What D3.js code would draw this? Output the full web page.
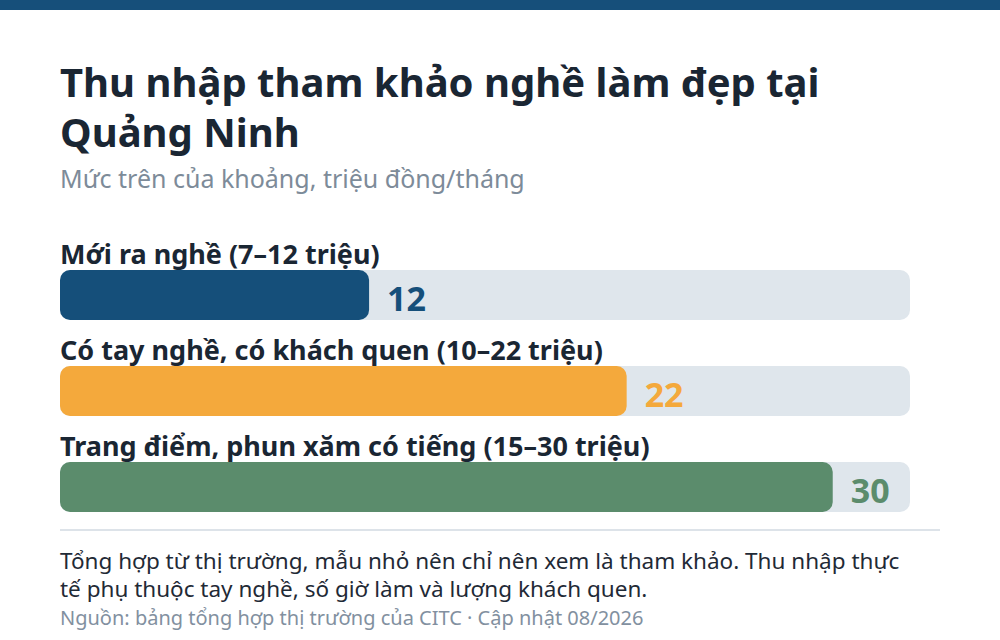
<!DOCTYPE html>
<html>
<head>
<meta charset="utf-8">
<script src="https://cdn.jsdelivr.net/npm/d3@7"></script>
<style>
  body { margin: 0; background: #fff; }
  svg { display: block; font-family: "Noto Sans", "Open Sans", sans-serif; }
</style>
</head>
<body>
<div id="chart"></div>
<script>
// data
const categories = ["Mới ra nghề (7–12 triệu)", "Có tay nghề, có khách quen (10–22 triệu)", "Trang điểm, phun xăm có tiếng (15–30 triệu)"];
const values = [12, 22, 30];
const barColors = ["#154f7a", "#f4a93c", "#5b8c6c"];
const titleLines = ["Thu nhập tham khảo nghề làm đẹp tại", "Quảng Ninh"];
const subtitle = "Mức trên của khoảng, triệu đồng/tháng";
const noteLines = ["Tổng hợp từ thị trường, mẫu nhỏ nên chỉ nên xem là tham khảo. Thu nhập thực", "tế phụ thuộc tay nghề, số giờ làm và lượng khách quen."];
const source = "Nguồn: bảng tổng hợp thị trường của CITC · Cập nhật 08/2026";

const width = 1000;
const height = 640;
const left = 60;
const trackW = 850;

const svg = d3.select("#chart")
  .append("svg")
  .attr("width", width)
  .attr("height", height);

// top band
svg.append("rect")
  .attr("x", 0).attr("y", 0)
  .attr("width", width).attr("height", 10)
  .attr("fill", "#164f7a");

// title + subtitle
svg.selectAll(".title")
  .data(titleLines)
  .enter()
  .append("text")
  .attr("class", "title")
  .attr("x", left)
  .attr("y", (d, i) => 97 + i * 50)
  .attr("font-size", "40px")
  .attr("font-weight", "bold")
  .attr("fill", "#1a2633")
  .text(d => d);

svg.append("text")
  .attr("x", left)
  .attr("y", 188)
  .attr("font-size", "25px")
  .attr("fill", "#7d8b99")
  .text(subtitle);

// scales
const x = d3.scaleLinear()
  .domain([0, d3.max(values) * 1.1])
  .range([0, trackW]);

const y = d3.scaleBand()
  .domain(categories)
  .range([270, 270 + 96 * categories.length])
  .paddingInner(0);

const rows = svg.selectAll(".row")
  .data(categories)
  .enter()
  .append("g")
  .attr("class", "row")
  .attr("transform", d => `translate(${left},${y(d)})`);

// category label above each track
rows.append("text")
  .attr("x", 0)
  .attr("y", -6)
  .attr("font-size", "27px")
  .attr("font-weight", "bold")
  .attr("fill", "#1a2633")
  .text(d => d);

// background track
rows.append("rect")
  .attr("width", x.range()[1])
  .attr("height", 50)
  .attr("rx", 10)
  .attr("fill", "#dfe6ec");

// value bar
rows.append("rect")
  .attr("width", (d, i) => x(values[i]))
  .attr("height", 50)
  .attr("rx", 10)
  .attr("fill", (d, i) => barColors[i]);

// value label
rows.append("text")
  .attr("x", (d, i) => x(values[i]) + 18)
  .attr("y", 41)
  .attr("font-size", "34px")
  .attr("font-weight", "bold")
  .attr("fill", (d, i) => barColors[i])
  .text((d, i) => values[i]);

// divider
svg.append("line")
  .attr("x1", left).attr("x2", 940)
  .attr("y1", 530).attr("y2", 530)
  .attr("stroke", "#dde3e9")
  .attr("stroke-width", 2);

// note
svg.selectAll(".note")
  .data(noteLines)
  .enter()
  .append("text")
  .attr("class", "note")
  .attr("x", left)
  .attr("y", (d, i) => 569 + i * 28)
  .attr("font-size", "22.5px")
  .attr("fill", "#1f2a36")
  .text(d => d);

svg.append("text")
  .attr("x", left)
  .attr("y", 625)
  .attr("font-size", "20px")
  .attr("fill", "#8290a0")
  .text(source);
</script>
</body>
</html>
